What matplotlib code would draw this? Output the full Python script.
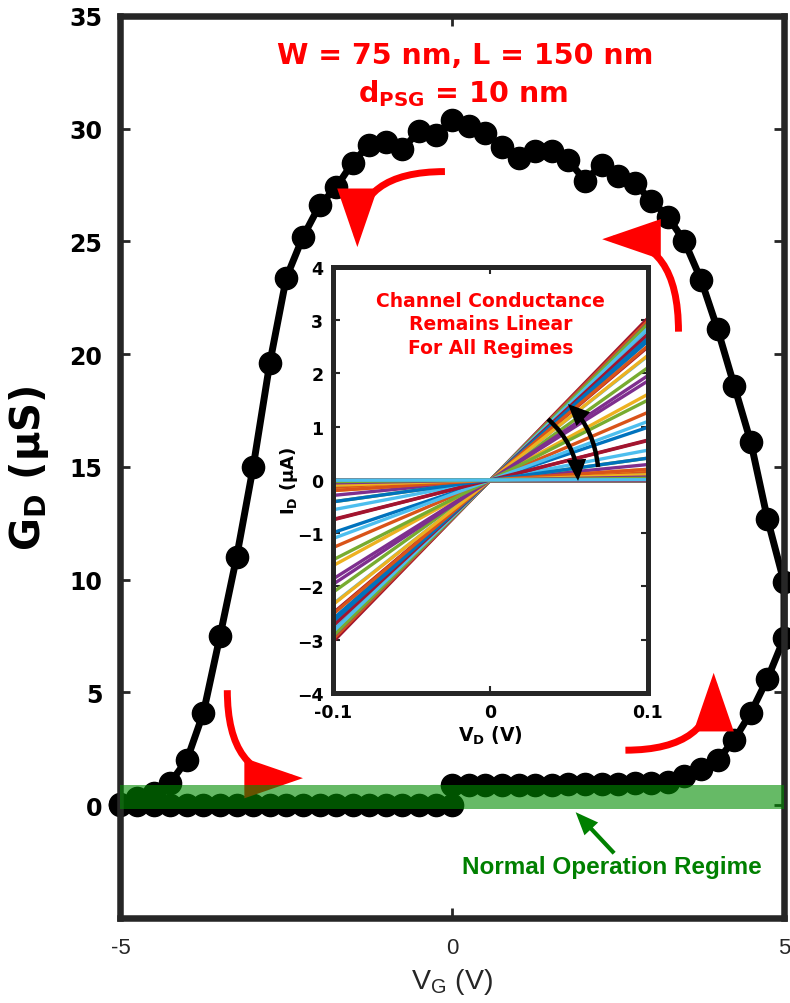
import matplotlib
matplotlib.use('Agg')
import matplotlib.pyplot as plt
from matplotlib.patches import FancyArrowPatch

# forward sweep of the gate voltage (-5 V -> 5 V)
vg_fwd = [-5.0, -4.75, -4.5, -4.25, -4.0, -3.75, -3.5, -3.25, -3.0, -2.75,
          -2.5, -2.25, -2.0, -1.75, -1.5, -1.25, -1.0, -0.75, -0.5, -0.25,
          0.0, 0.0, 0.25, 0.5, 0.75, 1.0, 1.25, 1.5, 1.75, 2.0, 2.25,
          2.5, 2.75, 3.0, 3.25, 3.5, 3.75, 4.0, 4.25, 4.5, 4.75, 5.0]
gd_fwd = [0.0, 0.0, 0.0, 0.0, 0.0, 0.0, 0.0, 0.0, 0.0, 0.0,
          0.0, 0.0, 0.0, 0.0, 0.0, 0.0, 0.0, 0.0, 0.0, 0.0,
          0.0, 0.9, 0.9, 0.9, 0.9, 0.9, 0.9, 0.9, 0.95, 0.95, 0.95,
          0.95, 1.0, 1.0, 1.05, 1.3, 1.6, 2.0, 2.9, 4.1, 5.6, 7.4]

# reverse sweep (5 V -> -5 V)
vg_rev = [5.0, 4.75, 4.5, 4.25, 4.0, 3.75, 3.5, 3.25, 3.0, 2.75,
          2.5, 2.25, 2.0, 1.75, 1.5, 1.25, 1.0, 0.75, 0.5, 0.25,
          0.0, -0.25, -0.5, -0.75, -1.0, -1.25, -1.5, -1.75, -2.0, -2.25,
          -2.5, -2.75, -3.0, -3.25, -3.5, -3.75, -4.0, -4.25, -4.5, -4.75, -5.0]
gd_rev = [9.9, 12.7, 16.1, 18.6, 21.1, 23.3, 25.0, 26.1, 26.8, 27.6,
          27.9, 28.4, 27.7, 28.6, 29.0, 29.0, 28.7, 29.2, 29.8, 30.1,
          30.4, 29.7, 29.9, 29.1, 29.4, 29.3, 28.5, 27.4, 26.6, 25.2,
          23.4, 19.6, 15.0, 11.0, 7.5, 4.1, 2.0, 1.0, 0.55, 0.3, 0.05]

# drain sweep of the inset I-V lines (V)
vd_ends = [-0.1, 0.1]

main_xticks = [-5, 0, 5]
main_yticks = [0, 5, 10, 15, 20, 25, 30, 35]
inset_xticks = [-0.1, 0, 0.1]
inset_yticks = [-4, -3, -2, -1, 0, 1, 2, 3, 4]

matlab_colors = ['#0072BD', '#D95319', '#EDB120', '#7E2F8E',
                 '#77AC30', '#4DBEEE', '#A2142F']
axis_gray = '#262626'

fig = plt.figure(figsize=(7.9, 10.04), dpi=100)
ax = fig.add_axes([0.1525, 0.0847, 0.8399, 0.8984])

vg_all = vg_fwd + vg_rev
gd_all = gd_fwd + gd_rev
ax.plot(vg_all, gd_all, '-o', color='black', lw=5, ms=16, zorder=2, clip_on=False)

# normal operation band
ax.axhspan(-0.15, 0.9, color=(0, 0.55, 0), alpha=0.6, lw=0, zorder=4)

ax.set_xlim(-5, 5)
ax.set_ylim(-5, 35)
ax.set_xticks(main_xticks)
ax.set_yticks(main_yticks)
ax.set_xticklabels([str(t) for t in main_xticks])
for sp in ax.spines.values():
    sp.set_linewidth(4.7)
    sp.set_color(axis_gray)
ax.tick_params(direction='in', length=7, width=2, color=axis_gray, top=True, right=True)
ax.tick_params(axis='y', labelsize=17, pad=13, labelcolor='black')
ax.tick_params(axis='x', labelsize=16, pad=14, labelcolor=axis_gray)
for lbl in ax.get_yticklabels():
    lbl.set_fontweight('bold')
    lbl.set_fontfamily('DejaVu Sans')
for lbl in ax.get_xticklabels():
    lbl.set_fontfamily('Liberation Sans')

ax.set_ylabel(r'G$_\mathregular{D}$ (μS)', fontsize=29, fontweight='bold', family='DejaVu Sans')
ax.yaxis.set_label_coords(-0.104, 0.5)
ax.set_xlabel(r'V$_\mathregular{G}$ (V)', fontsize=20.5, family='Liberation Sans', color=axis_gray)
ax.xaxis.set_label_coords(0.5, -0.053)

ax.text(0.19, 32.9, 'W = 75 nm, L = 150 nm', color='red', fontsize=20.5, fontweight='bold',
        ha='center', va='baseline', family='DejaVu Sans')
ax.text(0.16, 31.24, r'd$_\mathregular{PSG}$ = 10 nm', color='red', fontsize=20.5, fontweight='bold',
        ha='center', va='baseline', family='DejaVu Sans')

red_style = '-|>,head_length=3.2,head_width=1.1'
red_arrows = [((-0.11, 28.1), (-1.43, 24.75), 'angle3,angleA=0,angleB=90'),
              ((3.41, 21.0), (2.26, 25.1), 'angle3,angleA=90,angleB=0'),
              ((-3.39, 5.1), (-2.25, 1.2), 'angle3,angleA=90,angleB=0'),
              ((2.61, 2.44), (3.94, 5.87), 'angle3,angleA=0,angleB=90')]
for tail, tip, conn in red_arrows:
    ax.add_patch(FancyArrowPatch(tail, tip, connectionstyle=conn, arrowstyle=red_style,
                                 mutation_scale=10, color='red', lw=5, zorder=3,
                                 shrinkA=0, shrinkB=0, joinstyle='miter', capstyle='butt'))

ax.add_patch(FancyArrowPatch((2.44, -2.13), (1.86, -0.31),
                             arrowstyle='-|>,head_length=1.1,head_width=0.45',
                             mutation_scale=10, color=(0, 0.5, 0), lw=3, zorder=5,
                             shrinkA=0, shrinkB=0, joinstyle='miter', capstyle='butt'))
ax.text(2.41, -2.71, 'Normal Operation Regime', color=(0, 0.5, 0), fontsize=17.5,
        fontweight='bold', family='Liberation Sans', ha='center', va='center')

# inset: I-V lines, one per gate bias point
axi = fig.add_axes([0.4215, 0.3088, 0.3987, 0.4243])
for i, g in enumerate(gd_all):
    axi.plot(vd_ends, [v * g for v in vd_ends], color=matlab_colors[i % 7], lw=2.4)
axi.set_xlim(-0.1, 0.1)
axi.set_ylim(-4, 4)
axi.set_xticks(inset_xticks)
axi.set_xticklabels(['-0.1', '0', '0.1'])
axi.set_yticks(inset_yticks)
for sp in axi.spines.values():
    sp.set_linewidth(3.6)
    sp.set_color(axis_gray)
axi.tick_params(direction='in', length=5, width=1.5, color=axis_gray, top=True, right=True,
                labelsize=12.5, pad=7)
for lbl in axi.get_xticklabels() + axi.get_yticklabels():
    lbl.set_fontweight('bold')
axi.set_ylabel(r'I$_\mathregular{D}$ (μA)', fontsize=13, fontweight='bold')
axi.yaxis.set_label_coords(-0.105, 0.5)
axi.set_xlabel(r'V$_\mathregular{D}$ (V)', fontsize=13.5, fontweight='bold')
axi.xaxis.set_label_coords(0.5, -0.073)
axi.text(0, 2.93, 'Channel Conductance\nRemains Linear\nFor All Regimes', color='red',
         fontsize=13.5, fontweight='bold', ha='center', va='center', linespacing=1.3)

black_style = '-|>,head_length=1.0,head_width=0.45'
axi.add_patch(FancyArrowPatch((0.0365, 1.146), (0.0556, -0.019), connectionstyle='arc3,rad=-0.2',
                              arrowstyle=black_style, mutation_scale=10, color='black', lw=3.2,
                              shrinkA=0, shrinkB=0, zorder=5, joinstyle='miter', capstyle='butt'))
axi.add_patch(FancyArrowPatch((0.0683, 0.244), (0.0492, 1.427), connectionstyle='arc3,rad=0.18',
                              arrowstyle=black_style, mutation_scale=10, color='black', lw=3.2,
                              shrinkA=0, shrinkB=0, zorder=5, joinstyle='miter', capstyle='butt'))

fig.savefig('out.png', dpi=100)
